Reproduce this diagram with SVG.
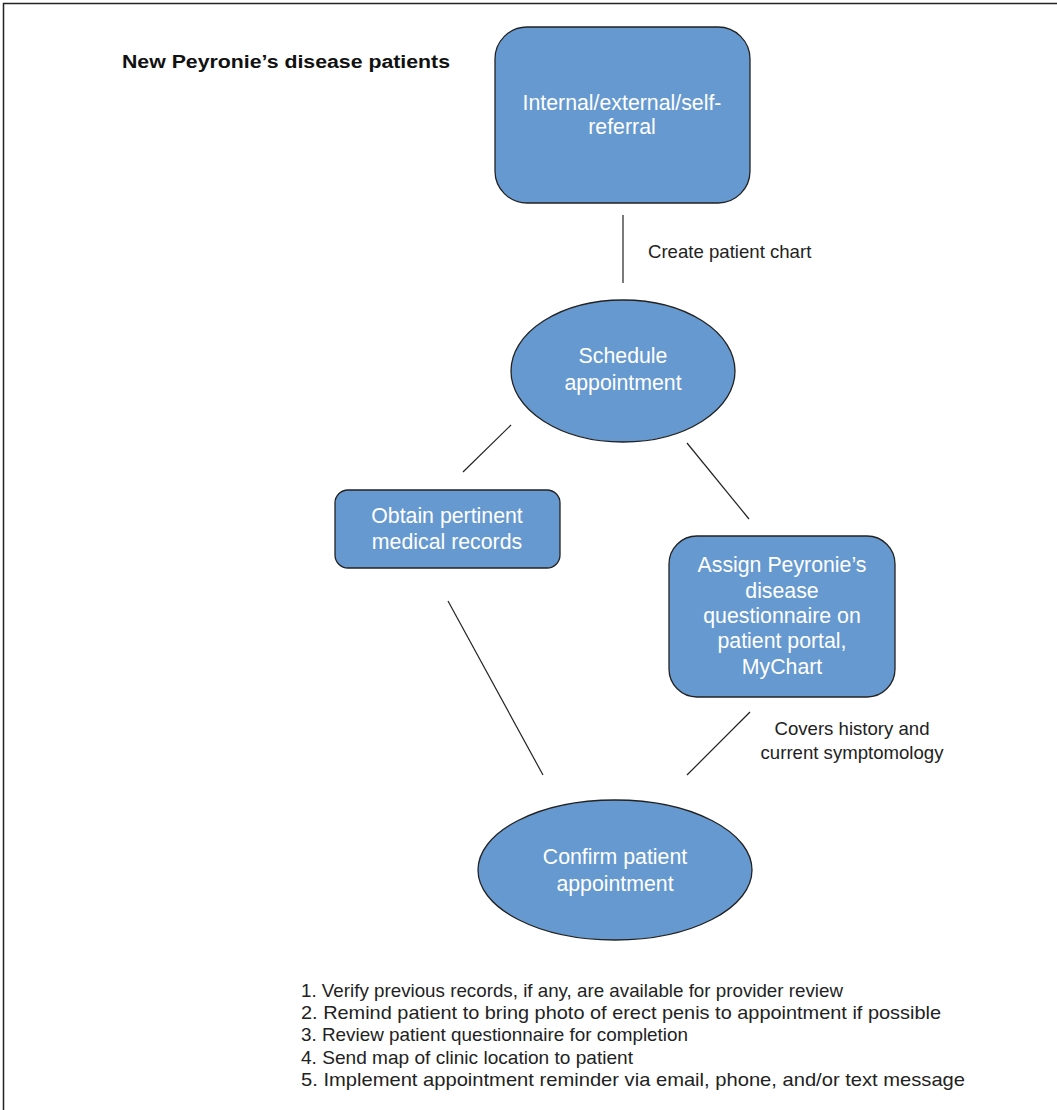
<svg xmlns="http://www.w3.org/2000/svg" width="1057" height="1110" viewBox="0 0 1057 1110">
<style>
.node{fill:#6699cf;stroke:#222;stroke-width:1.3}
.nt{font-family:"Liberation Sans",Arial,sans-serif;font-size:21.3px;fill:#fff;text-anchor:middle}
.lab{font-family:"Liberation Sans",Arial,sans-serif;font-size:18.6px;fill:#222}
.lst{font-family:"Liberation Sans",Arial,sans-serif;font-size:19px;fill:#222}
.conn line{stroke:#222;stroke-width:1.2}
</style>
<rect x="0" y="0" width="1057" height="1110" fill="#fff"/>
<path d="M3.5,1110 V3.5 H1057" fill="none" stroke="#222" stroke-width="1.5"/>
<text x="122" y="68" font-family="'Liberation Sans',Arial,sans-serif" font-size="18px" font-weight="bold" fill="#111" textLength="328" lengthAdjust="spacingAndGlyphs">New Peyronie’s disease patients</text>
<g id="n-referral">
<rect class="node" x="495" y="27" width="255" height="176" rx="32"/>
<text class="nt" x="622" y="110">Internal/external/self-</text>
<text class="nt" x="622" y="134">referral</text>
</g>
<g id="n-schedule">
<ellipse class="node" cx="623" cy="371" rx="112" ry="71"/>
<text class="nt" x="623" y="363">Schedule</text>
<text class="nt" x="623" y="390">appointment</text>
</g>
<g id="n-obtain">
<rect class="node" x="335" y="490" width="225" height="78" rx="13"/>
<text class="nt" x="447" y="523">Obtain pertinent</text>
<text class="nt" x="447" y="549">medical records</text>
</g>
<g id="n-assign">
<rect class="node" x="669" y="536" width="226" height="161" rx="28"/>
<text class="nt" x="782" y="572">Assign Peyronie’s</text>
<text class="nt" x="782" y="598">disease</text>
<text class="nt" x="782" y="623">questionnaire on</text>
<text class="nt" x="782" y="648">patient portal,</text>
<text class="nt" x="782" y="674">MyChart</text>
</g>
<g id="n-confirm">
<ellipse class="node" cx="615" cy="870" rx="137" ry="70"/>
<text class="nt" x="615" y="864">Confirm patient</text>
<text class="nt" x="615" y="891">appointment</text>
</g>
<g class="conn" id="connectors">
<line x1="623" y1="215" x2="623" y2="283"/>
<line x1="511" y1="425" x2="463" y2="472"/>
<line x1="687" y1="443" x2="749" y2="519"/>
<line x1="448" y1="601" x2="543" y2="775"/>
<line x1="750" y1="712" x2="687" y2="775"/>
</g>
<g id="labels">
<text class="lab" x="648" y="258">Create patient chart</text>
<text class="lab" x="852" y="735" text-anchor="middle">Covers history and</text>
<text class="lab" x="852" y="759" text-anchor="middle">current symptomology</text>
</g>
<g id="checklist">
<text class="lst" x="301" y="997" textLength="542" lengthAdjust="spacingAndGlyphs">1. Verify previous records, if any, are available for provider review</text>
<text class="lst" x="301" y="1019" textLength="640" lengthAdjust="spacingAndGlyphs">2. Remind patient to bring photo of erect penis to appointment if possible</text>
<text class="lst" x="301" y="1041" textLength="387" lengthAdjust="spacingAndGlyphs">3. Review patient questionnaire for completion</text>
<text class="lst" x="301" y="1064" textLength="332" lengthAdjust="spacingAndGlyphs">4. Send map of clinic location to patient</text>
<text class="lst" x="301" y="1086" textLength="664" lengthAdjust="spacingAndGlyphs">5. Implement appointment reminder via email, phone, and/or text message</text>
</g>
</svg>
